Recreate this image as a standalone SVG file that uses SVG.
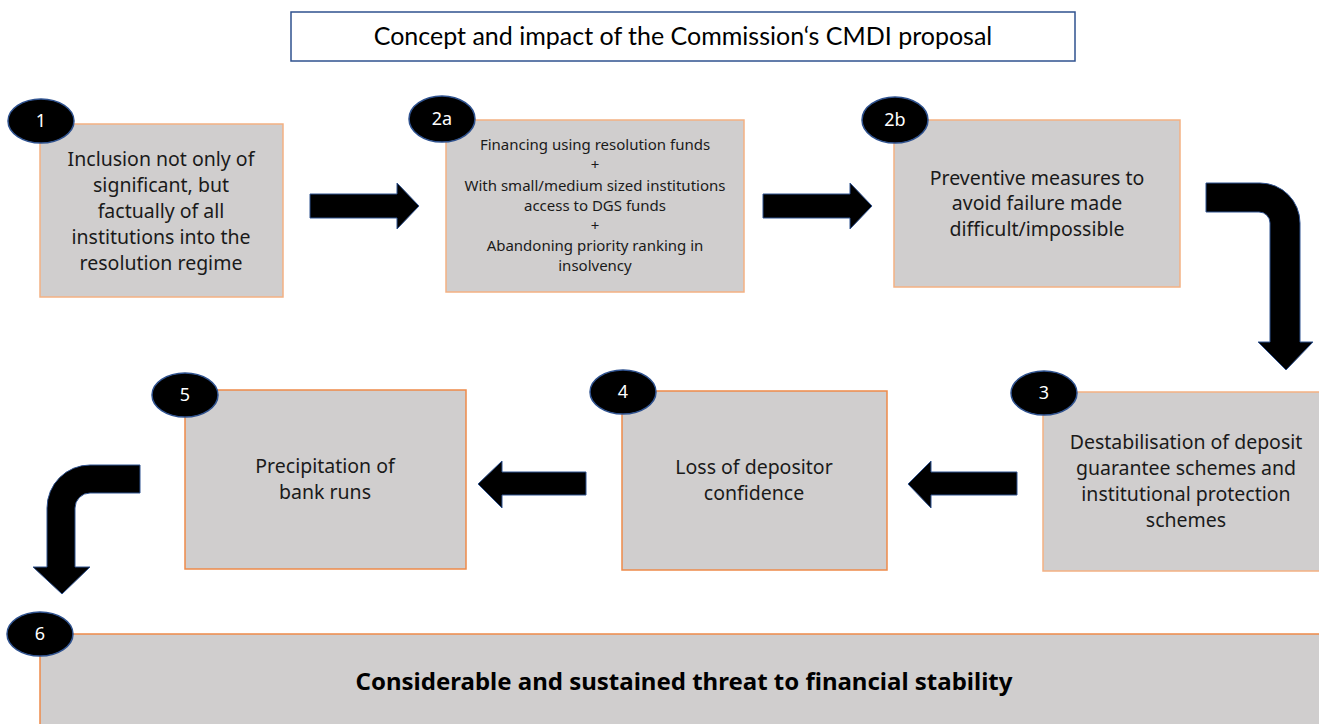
<svg xmlns="http://www.w3.org/2000/svg" width="1319" height="724" viewBox="0 0 1319 724">
  <style>
    .box { fill: #d0cece; stroke: #f4b183; stroke-width: 1.5; }
    .box-strong { fill: #d0cece; stroke: #ee8a4a; stroke-width: 1.5; }
    .badge { fill: #000000; stroke: #2f528f; stroke-width: 1.5; }
    .badge-text { font-family: "Noto Sans", "DejaVu Sans", sans-serif; font-size: 18px; fill: #ffffff; text-anchor: middle; }
    .body { font-family: "Noto Sans", "DejaVu Sans", sans-serif; font-size: 19.5px; fill: #1a1a1a; text-anchor: middle; }
    .small { font-family: "Noto Sans", "DejaVu Sans", sans-serif; font-size: 15px; fill: #1a1a1a; text-anchor: middle; }
    .title { font-family: "Lato", "Liberation Sans", sans-serif; font-size: 25px; fill: #000000; text-anchor: middle; }
    .bold { font-family: "Noto Sans", "DejaVu Sans", sans-serif; font-size: 24px; font-weight: bold; fill: #000000; text-anchor: middle; }
    .arrow { fill: #000000; stroke: #2f528f; stroke-width: 1; }
  </style>

  <rect width="1319" height="724" fill="#ffffff"/>

  <!-- heading -->
  <g id="title">
    <rect x="291" y="12" width="784" height="49" fill="#ffffff" stroke="#2f528f" stroke-width="1.5"/>
    <text class="title" x="683" y="45">Concept and impact of the Commission‘s CMDI proposal</text>
  </g>

  <!-- flow arrows -->
  <g id="connectors">
    <path class="arrow" d="M310,194 H397 V183 L419,206 L397,229 V218 H310 Z"/>
    <path class="arrow" d="M763,194 H850 V183 L872,206 L850,229 V218 H763 Z"/>
    <path class="arrow" d="M1206,183 H1260 A40,40 0 0 1 1300,223 V342 H1313 L1286,370 L1258,342 H1270 V223 A11,11 0 0 0 1259,212 H1206 Z"/>
    <path class="arrow" d="M1017,472 H931 V461 L908,484 L931,508 V495 H1017 Z"/>
    <path class="arrow" d="M586,472 H502 V461 L478,484 L502,508 V495 H586 Z"/>
    <path class="arrow" d="M140,465 H90 A43,43 0 0 0 47,508 V567 H33 L62,594 L90,567 H75 V508 A15,15 0 0 1 90,493 H140 Z"/>
  </g>

  <g id="step1">
    <rect class="box" x="40" y="124" width="243" height="173"/>
    <ellipse class="badge" cx="41" cy="121" rx="33" ry="22"/>
    <text class="badge-text" x="41" y="127">1</text>
    <text class="body" x="161" y="166">Inclusion not only of</text>
    <text class="body" x="161" y="192">significant, but</text>
    <text class="body" x="161" y="218">factually of all</text>
    <text class="body" x="161" y="244">institutions into the</text>
    <text class="body" x="161" y="270">resolution regime</text>
  </g>

  <g id="step2a">
    <rect class="box" x="446" y="120" width="298" height="172"/>
    <ellipse class="badge" cx="442" cy="119" rx="33" ry="23"/>
    <text class="badge-text" x="442" y="125">2a</text>
    <text class="small" x="595" y="150">Financing using resolution funds</text>
    <text class="small" x="595" y="170">+</text>
    <text class="small" x="595" y="191">With small/medium sized institutions</text>
    <text class="small" x="595" y="211">access to DGS funds</text>
    <text class="small" x="595" y="231">+</text>
    <text class="small" x="595" y="251">Abandoning priority ranking in</text>
    <text class="small" x="595" y="271">insolvency</text>
  </g>

  <g id="step2b">
    <rect class="box" x="894" y="120" width="286" height="167"/>
    <ellipse class="badge" cx="895" cy="120" rx="33" ry="23"/>
    <text class="badge-text" x="895" y="126">2b</text>
    <text class="body" x="1037" y="185">Preventive measures to</text>
    <text class="body" x="1037" y="210">avoid failure made</text>
    <text class="body" x="1037" y="236">difficult/impossible</text>
  </g>

  <g id="step3">
    <rect class="box" x="1043" y="392" width="280" height="179"/>
    <ellipse class="badge" cx="1044" cy="393" rx="33" ry="22"/>
    <text class="badge-text" x="1044" y="399">3</text>
    <text class="body" x="1186" y="449">Destabilisation of deposit</text>
    <text class="body" x="1186" y="475">guarantee schemes and</text>
    <text class="body" x="1186" y="501">institutional protection</text>
    <text class="body" x="1186" y="527">schemes</text>
  </g>

  <g id="step4">
    <rect class="box-strong" x="622" y="391" width="265" height="179"/>
    <ellipse class="badge" cx="623" cy="392" rx="33" ry="22"/>
    <text class="badge-text" x="623" y="398">4</text>
    <text class="body" x="754" y="474">Loss of depositor</text>
    <text class="body" x="754" y="500">confidence</text>
  </g>

  <g id="step5">
    <rect class="box-strong" x="185" y="390" width="281" height="179"/>
    <ellipse class="badge" cx="185" cy="395" rx="33" ry="22"/>
    <text class="badge-text" x="185" y="401">5</text>
    <text class="body" x="325" y="473">Precipitation of</text>
    <text class="body" x="325" y="499">bank runs</text>
  </g>

  <g id="step6">
    <rect class="box-strong" x="40" y="634" width="1290" height="100"/>
    <ellipse class="badge" cx="40" cy="634" rx="33" ry="22"/>
    <text class="badge-text" x="40" y="640">6</text>
    <text class="bold" x="684" y="690">Considerable and sustained threat to financial stability</text>
  </g>
</svg>
